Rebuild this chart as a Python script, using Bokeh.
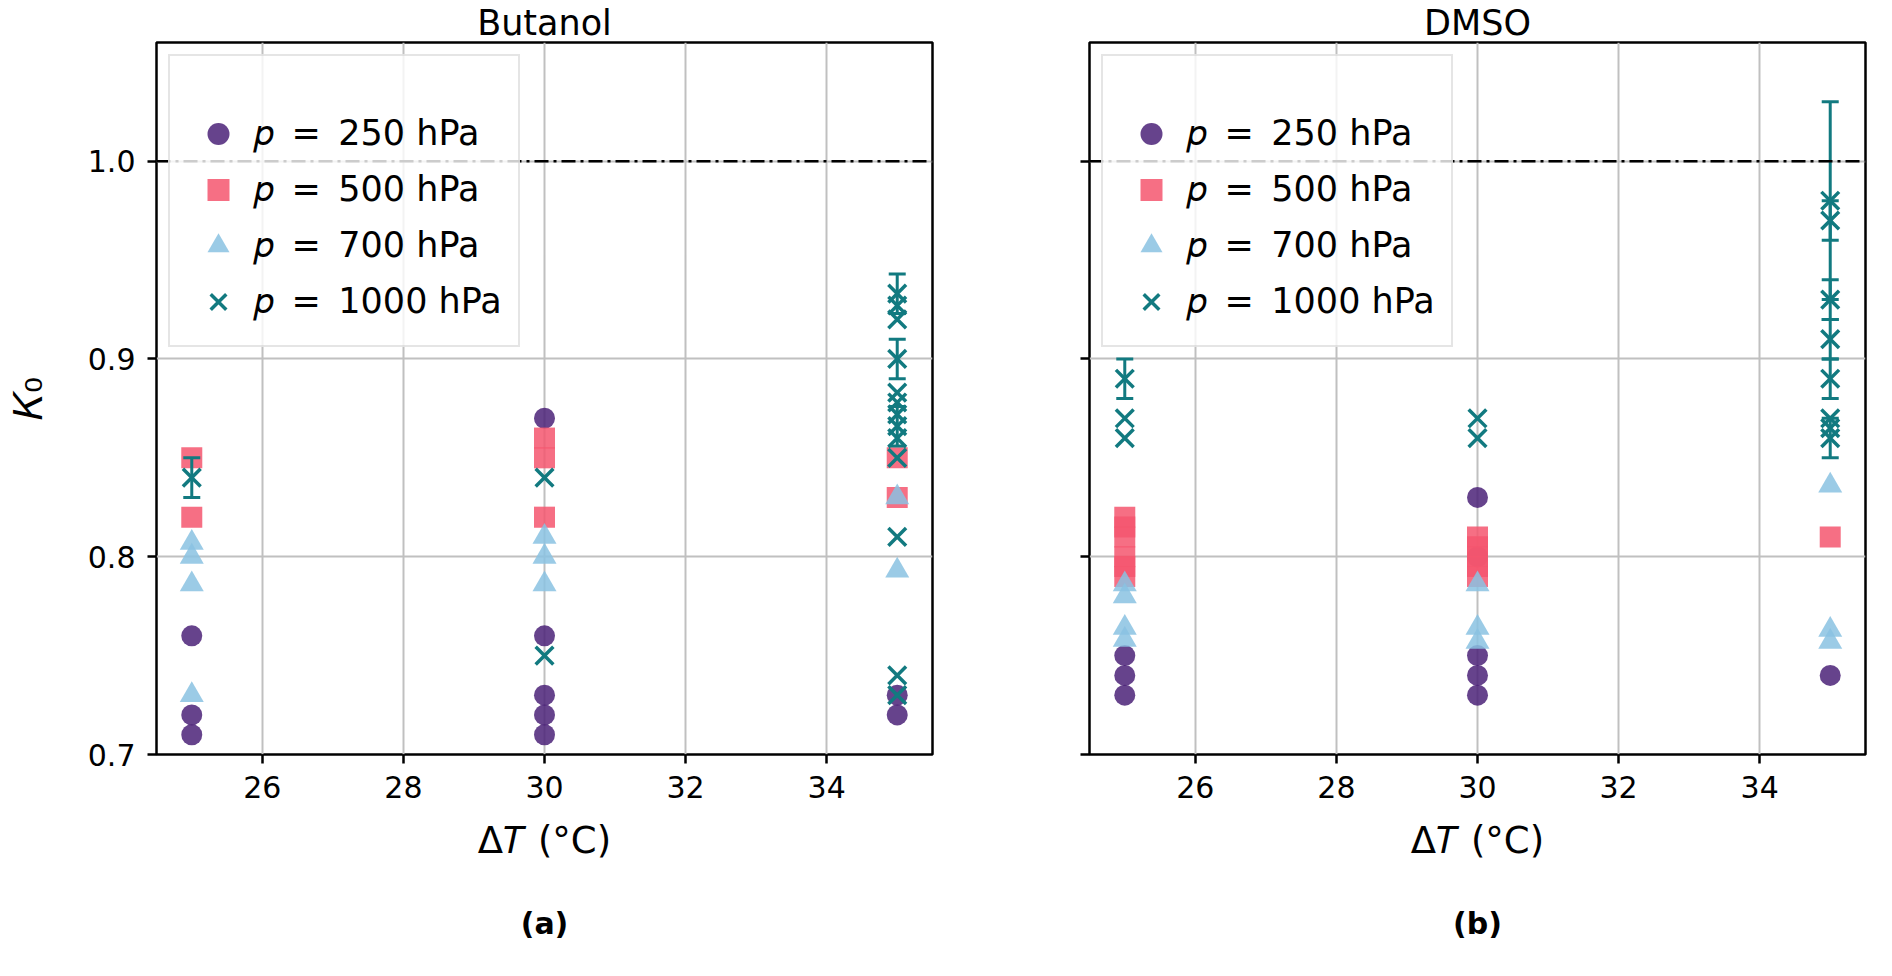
from bokeh.plotting import figure
from bokeh.models import (ColumnDataSource, Whisker, TeeHead, Span, Legend, LegendItem,
                          FixedTicker, PrintfTickFormatter, Range1d, Title)
from bokeh.layouts import row
from bokeh.embed import file_html
from bokeh.resources import INLINE

FONT = "DejaVu Sans"

# ---------------- data ----------------
panel_titles = ["Butanol", "DMSO"]
panel_tags = ["(a)", "(b)"]
pressures = [250, 500, 700, 1000]
x_ticks = [26, 28, 30, 32, 34]
y_ticks = [0.7, 0.8, 0.9, 1.0]
reference_k0 = 1.0

# Butanol
but_250_dt = [25, 25, 25, 30, 30, 30, 30, 30, 35, 35]
but_250_k0 = [0.76, 0.72, 0.71, 0.87, 0.76, 0.73, 0.72, 0.71, 0.73, 0.72]
but_250_err = [0, 0, 0, 0, 0, 0, 0, 0, 0, 0]

but_500_dt = [25, 25, 30, 30, 30, 35, 35]
but_500_k0 = [0.85, 0.82, 0.86, 0.85, 0.82, 0.85, 0.83]
but_500_err = [0, 0, 0, 0, 0, 0, 0]

but_700_dt = [25, 25, 25, 25, 30, 30, 30, 35, 35]
but_700_k0 = [0.807, 0.80, 0.786, 0.73, 0.81, 0.80, 0.786, 0.83, 0.793]
but_700_err = [0, 0, 0, 0, 0, 0, 0, 0, 0]

but_1000_dt = [25, 30, 30, 35, 35, 35, 35, 35, 35, 35, 35, 35, 35, 35, 35, 35]
but_1000_k0 = [0.84, 0.84, 0.75, 0.933, 0.927, 0.92, 0.90, 0.883, 0.878, 0.872,
               0.866, 0.86, 0.85, 0.81, 0.74, 0.73]
but_1000_err = [0.01, 0, 0, 0.01, 0, 0, 0.01, 0, 0, 0, 0.01, 0, 0, 0, 0, 0]

# DMSO
dmso_250_dt = [25, 25, 25, 30, 30, 30, 30, 30, 35]
dmso_250_k0 = [0.75, 0.74, 0.73, 0.83, 0.80, 0.75, 0.74, 0.73, 0.74]
dmso_250_err = [0, 0, 0, 0, 0, 0, 0, 0, 0]

dmso_500_dt = [25, 25, 25, 25, 25, 25, 30, 30, 30, 30, 30, 35]
dmso_500_k0 = [0.82, 0.815, 0.81, 0.80, 0.795, 0.79, 0.81, 0.805, 0.80, 0.795, 0.79, 0.81]
dmso_500_err = [0, 0, 0, 0, 0, 0, 0, 0, 0, 0, 0, 0]

dmso_700_dt = [25, 25, 25, 25, 30, 30, 30, 35, 35, 35]
dmso_700_k0 = [0.786, 0.78, 0.764, 0.758, 0.786, 0.764, 0.757, 0.836, 0.763, 0.757]
dmso_700_err = [0, 0, 0, 0, 0, 0, 0, 0, 0, 0]

dmso_1000_dt = [25, 25, 25, 30, 30, 35, 35, 35, 35, 35, 35, 35, 35]
dmso_1000_k0 = [0.89, 0.87, 0.86, 0.87, 0.86, 0.98, 0.97, 0.93, 0.91, 0.89, 0.87, 0.865, 0.86]
dmso_1000_err = [0.01, 0, 0, 0, 0, 0.05, 0.01, 0.01, 0.01, 0.01, 0, 0, 0.01]

panels_data = [
    [(but_250_dt, but_250_k0, but_250_err), (but_500_dt, but_500_k0, but_500_err),
     (but_700_dt, but_700_k0, but_700_err), (but_1000_dt, but_1000_k0, but_1000_err)],
    [(dmso_250_dt, dmso_250_k0, dmso_250_err), (dmso_500_dt, dmso_500_k0, dmso_500_err),
     (dmso_700_dt, dmso_700_k0, dmso_700_err), (dmso_1000_dt, dmso_1000_k0, dmso_1000_err)],
]

# ---------------- styles ----------------
colors = ["#4b2278", "#f4566f", "#8ac2e2", "#127a80"]
markers = ["circle", "square", "triangle", "x"]
sizes = [21, 21, 24, 25]


def make_panel(idx):
    first = idx == 0
    p = figure(frame_width=776, frame_height=712,
               x_range=Range1d(24.5, 35.5), y_range=Range1d(0.7, 1.06),
               output_backend="svg", toolbar_location=None,
               min_border_left=156 if first else 152, min_border_right=5,
               min_border_top=38, min_border_bottom=0,
               background_fill_color="white", border_fill_color="white")
    p.title.text = panel_titles[idx]
    p.title.align = "center"
    p.title.text_font = FONT
    p.title.text_font_size = "35px"
    p.title.text_font_style = "normal"
    p.title.text_color = "black"
    p.title.standoff = 0

    p.outline_line_color = "black"
    p.outline_line_width = 2.5
    p.outline_line_alpha = 1.0

    p.grid.grid_line_color = "#c0c0c0"
    p.grid.grid_line_width = 2
    p.xgrid.ticker = FixedTicker(ticks=x_ticks)
    p.ygrid.ticker = FixedTicker(ticks=y_ticks)

    for ax in (p.xaxis, p.yaxis):
        ax.axis_line_color = None
        ax.major_tick_line_color = "black"
        ax.major_tick_line_width = 2.5
        ax.major_tick_out = 9
        ax.major_tick_in = 0
        ax.minor_tick_line_color = None
        ax.major_label_text_font = FONT
        ax.major_label_text_font_size = "30px"
        ax.major_label_text_color = "black"
        ax.axis_label_text_font = FONT
        ax.axis_label_text_font_size = "37px"
        ax.axis_label_text_font_style = "normal"
        ax.axis_label_text_color = "black"
        ax.major_label_standoff = 12

    p.xaxis.ticker = FixedTicker(ticks=x_ticks)
    p.yaxis.ticker = FixedTicker(ticks=y_ticks)
    p.yaxis.formatter = PrintfTickFormatter(format="%.1f")
    p.xaxis.axis_label = "Δ𝑇 (°C)"
    p.xaxis.axis_label_standoff = 18
    if first:
        p.yaxis.axis_label = "𝐾₀"
        p.yaxis.axis_label_text_font_size = "40px"
        p.yaxis.axis_label_standoff = 34
    else:
        p.yaxis.major_label_text_color = None

    p.add_layout(Span(location=reference_k0, dimension="width", line_color="black",
                      line_width=2.5, line_dash="14 5 3 5"))

    items = []
    for s, (dts, ks, errs) in enumerate(panels_data[idx]):
        src = ColumnDataSource(dict(x=dts, y=ks))
        if markers[s] == "x":
            r = p.scatter("x", "y", source=src, marker="x", size=sizes[s],
                          line_color=colors[s], line_width=3.5, line_alpha=1.0)
        else:
            r = p.scatter("x", "y", source=src, marker=markers[s], size=sizes[s],
                          fill_color=colors[s], fill_alpha=0.85,
                          line_color=colors[s], line_alpha=0.0)
        ex = [d for d, e in zip(dts, errs) if e > 0]
        elo = [k - e for k, e in zip(ks, errs) if e > 0]
        ehi = [k + e for k, e in zip(ks, errs) if e > 0]
        if ex:
            esrc = ColumnDataSource(dict(x=ex, lo=elo, hi=ehi))
            w = Whisker(base="x", lower="lo", upper="hi", source=esrc, dimension="height",
                        line_color=colors[s], line_width=3, level="glyph",
                        upper_head=TeeHead(size=17, line_color=colors[s], line_width=3),
                        lower_head=TeeHead(size=17, line_color=colors[s], line_width=3))
            p.add_layout(w)
        items.append(LegendItem(label=f"𝑝\u2002=\u2002{pressures[s]} hPa", renderers=[r]))

    legend = Legend(items=items, location="top_left", margin=12, padding=16,
                    title=" ", title_text_font_size="28px", title_standoff=2,
                    glyph_width=64, glyph_height=55, label_standoff=4, spacing=1,
                    label_text_font=FONT, label_text_font_size="35px",
                    label_text_color="black",
                    border_line_color="#cccccc", border_line_width=2,
                    background_fill_color="white", background_fill_alpha=0.8)
    p.add_layout(legend)

    p.add_layout(Title(text=panel_tags[idx], align="center", text_font=FONT,
                       text_font_size="30px", text_font_style="bold",
                       text_color="black", standoff=78), "below")
    return p


p1 = make_panel(0)
p2 = make_panel(1)
layout = row(p1, p2, spacing=0)

open("out.html", "w").write(file_html(layout, INLINE))
